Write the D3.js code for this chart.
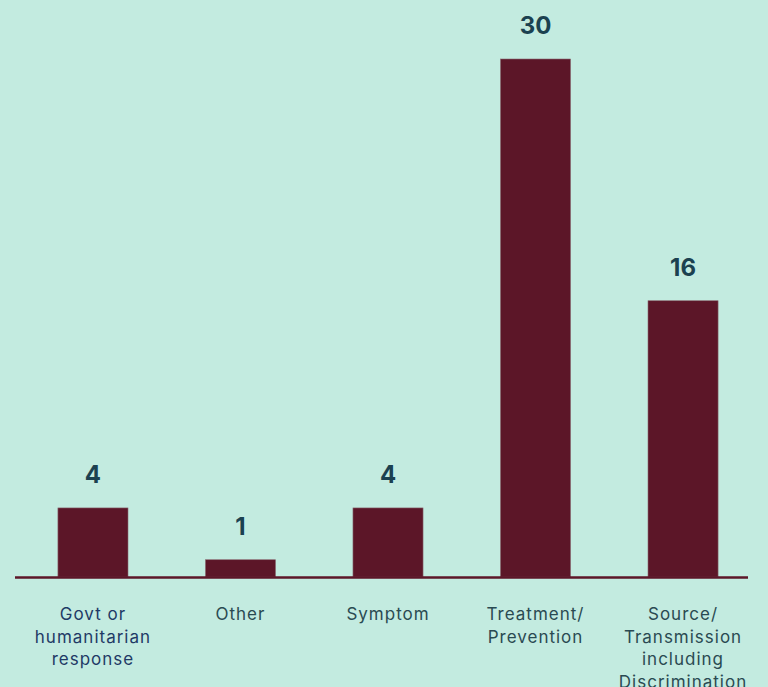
<!DOCTYPE html>
<html>
<head>
<meta charset="utf-8">
<script src="https://cdn.jsdelivr.net/npm/d3@7"></script>
<style>
  html, body { margin: 0; padding: 0; background: #c3ebe0; }
  svg { display: block; }
</style>
</head>
<body>
<div id="chart"></div>
<script>
// Categories and counts
var categories = ["Govt or humanitarian response", "Other", "Symptom", "Treatment/Prevention", "Source/Transmission including Discrimination"];
var counts = [4, 1, 4, 30, 16];
// label lines under each bar
var labelLines = [
  ["Govt or", "humanitarian", "response"],
  ["Other"],
  ["Symptom"],
  ["Treatment/", "Prevention"],
  ["Source/", "Transmission", "including", "Discrimination"]
];

var width = 768;
var height = 687;
var baseY = 577;
var topY = 59;

var svg = d3.select("#chart")
  .append("svg")
  .attr("width", width)
  .attr("height", height);

svg.append("rect")
  .attr("width", width)
  .attr("height", height)
  .attr("fill", "#c3ebe0");

var data = categories.map(function(c, i) {
  return { cat: c, value: counts[i], lines: labelLines[i] };
});

// x scale
var xScale = d3.scaleBand()
  .domain(categories)
  .range([24, 752])
  .paddingInner(0.525)
  .paddingOuter(0.23);

// y scale
var yScale = d3.scaleLinear()
  .domain([0, 30])
  .range([baseY, topY]);

// bars
svg.selectAll("rect.bar")
  .data(data)
  .enter()
  .append("rect")
  .attr("class", "bar")
  .attr("x", function(d) { return xScale(d.cat); })
  .attr("y", function(d) { return yScale(d.value); })
  .attr("width", xScale.bandwidth())
  .attr("height", function(d) { return baseY - yScale(d.value); })
  .attr("fill", "#5c1628")
  .attr("stroke", "#8a6a72")
  .attr("stroke-width", 0.6);

// baseline
svg.append("line")
  .attr("x1", 15)
  .attr("x2", 748)
  .attr("y1", baseY + 0.5)
  .attr("y2", baseY + 0.5)
  .attr("stroke", "#5c1628")
  .attr("stroke-width", 2.5);

// value labels
svg.selectAll("text.value")
  .data(data)
  .enter()
  .append("text")
  .attr("class", "value")
  .attr("x", function(d) { return xScale(d.cat) + xScale.bandwidth() / 2; })
  .attr("y", function(d) { return yScale(d.value) - 25; })
  .attr("text-anchor", "middle")
  .attr("font-family", "Inter, 'Open Sans', sans-serif")
  .attr("font-weight", "bold")
  .attr("font-size", "24px")
  .attr("fill", "#1b4150")
  .text(function(d) { return d.value; });

// category labels
var labels = svg.selectAll("text.cat")
  .data(data)
  .enter()
  .append("text")
  .attr("class", "cat")
  .attr("text-anchor", "middle")
  .attr("font-family", "Inter, 'Open Sans', sans-serif")
  .attr("font-size", "17px")
  .attr("letter-spacing", "1px")
  .attr("fill", function(d, i) { return i === 0 ? "#1f3a66" : "#2a4a52"; });

labels.selectAll("tspan")
  .data(function(d) {
    return d.lines.map(function(l) { return { text: l, cat: d.cat }; });
  })
  .enter()
  .append("tspan")
  .attr("x", function(d) { return xScale(d.cat) + xScale.bandwidth() / 2; })
  .attr("y", function(d, i) { return 620 + i * 22.5; })
  .text(function(d) { return d.text; });
</script>
</body>
</html>
